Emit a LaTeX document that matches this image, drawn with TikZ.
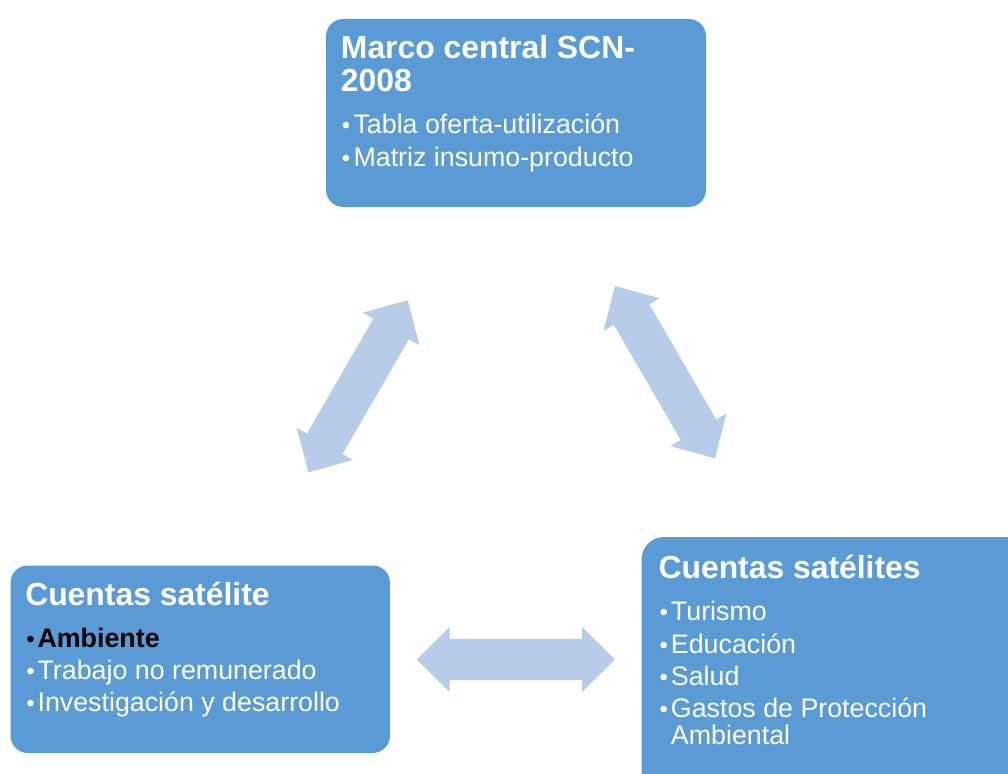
\documentclass[tikz,border=0pt]{standalone}
\usepackage{fontspec}
\setmainfont{Liberation Sans}
\usetikzlibrary{calc}
\definecolor{boxblue}{HTML}{5B9BD5}
\definecolor{arrowblue}{HTML}{B7CCE9}
\tikzset{
  x=0.75pt, y=-0.75pt,
  panel/.style={fill=boxblue, draw=none, rounded corners=13pt},
  ttl/.style={anchor=base west, inner sep=0pt, text=white, font=\fontsize{23.9}{28}\selectfont\bfseries},
  itm/.style={anchor=base west, inner sep=0pt, text=white, font=\fontsize{20.1}{24}\selectfont},
  bul/.style={anchor=base west, inner sep=0pt, text=white, font=\fontsize{18}{24}\selectfont},
  blockarrow/.style={fill=arrowblue, draw=none}
}
\newcommand\dblarrow[2]{%
  \path ($(#1)!24.75pt!(#2)$) coordinate (p1) ($(#2)!24.75pt!(#1)$) coordinate (p2);
  \path[blockarrow] (#1) -- ($(p1)!24.4pt!90:(#2)$) -- ($(p1)!15.4pt!90:(#2)$)
    -- ($(p2)!15.4pt!-90:(#1)$) -- ($(p2)!24.4pt!-90:(#1)$) -- (#2)
    -- ($(p2)!24.4pt!90:(#1)$) -- ($(p2)!15.4pt!90:(#1)$)
    -- ($(p1)!15.4pt!-90:(#2)$) -- ($(p1)!24.4pt!-90:(#2)$) -- cycle;}
\begin{document}
\begin{tikzpicture}
\useasboundingbox (0,0) rectangle (1008,774);
\clip (0,0) rectangle (1008,774);
% boxes
\path[panel] (326,19) rectangle (706,207);
\node[inner sep=0pt, minimum size=0pt] (topbox) at (516,113) {};
\path[panel] (10.5,565.5) rectangle (390,753);
\node[inner sep=0pt, minimum size=0pt] (leftbox) at (200,659) {};
\path[panel, rounded corners=17pt] (641.5,537) rectangle (1030,800);
\node[inner sep=0pt, minimum size=0pt] (rightbox) at (835,660) {};
% top box text
\node[ttl] (t1) at (340.7,58.3) {Marco central SCN-};
\node[ttl] (t2) at (340.7,91.7) {2008};
\node[bul] (tb1) at (341.7,134) {•};
\node[itm] (ti1) at (353.3,134) {Tabla oferta-utilización};
\node[bul] (tb2) at (341.7,166.7) {•};
\node[itm] (ti2) at (353.3,166.7) {Matriz insumo-producto};
% left box text
\node[ttl] (l1) at (25,605) {Cuentas satélite};
\node[bul, text=black] (lb1) at (26,647.3) {•};
\node[itm, text=black, font=\fontsize{20.1}{24}\selectfont\bfseries] (li1) at (37.3,647.3) {Ambiente};
\node[bul] (lb2) at (26,679.5) {•};
\node[itm] (li2) at (37.3,679.5) {Trabajo no remunerado};
\node[bul] (lb3) at (26,711.7) {•};
\node[itm] (li3) at (37.3,711.7) {Investigación y desarrollo};
% right box text
\node[ttl] (r1) at (658.3,578.3) {Cuentas satélites};
\node[bul] (rb1) at (659.3,620.7) {•};
\node[itm] (ri1) at (670.7,620.7) {Turismo};
\node[bul] (rb2) at (659.3,653.2) {•};
\node[itm] (ri2) at (670.7,653.2) {Educación};
\node[bul] (rb3) at (659.3,685.6) {•};
\node[itm] (ri3) at (670.7,685.6) {Salud};
\node[bul] (rb4) at (659.3,717.9) {•};
\node[itm] (ri4) at (670.7,717.9) {Gastos de Protección};
\node[itm] (ri5) at (670.7,744.4) {Ambiental};
% arrows
\coordinate (la) at (308.3,472.3);
\coordinate (lb) at (407.7,300.3);
\coordinate (ra) at (615,286);
\coordinate (rb) at (715,458.3);
\coordinate (ba) at (416.7,659.5);
\coordinate (bb) at (615,659.5);
\dblarrow{la}{lb}
\dblarrow{ra}{rb}
\dblarrow{ba}{bb}
\end{tikzpicture}
\end{document}
